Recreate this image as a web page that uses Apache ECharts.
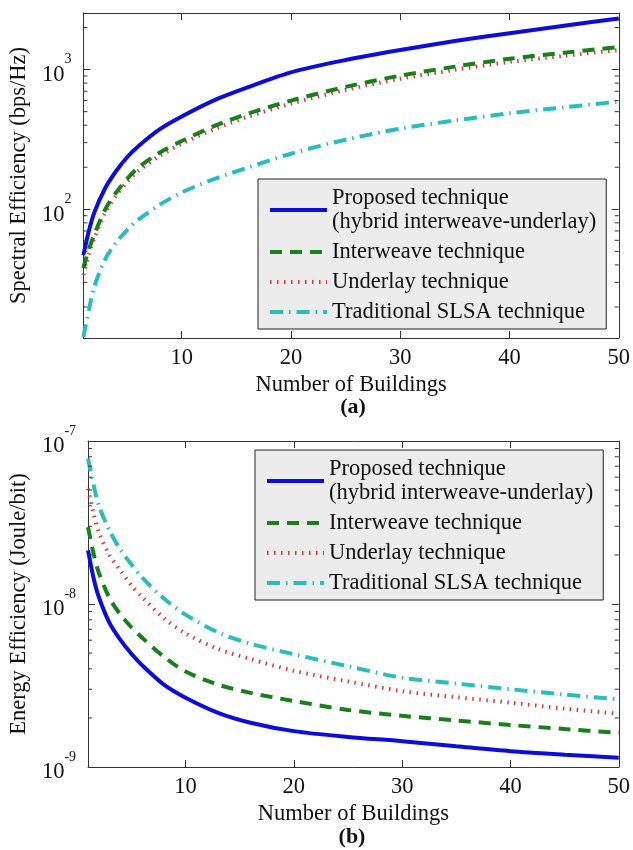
<!DOCTYPE html>
<html>
<head>
<meta charset="utf-8">
<script src="https://cdn.jsdelivr.net/npm/echarts@6/dist/echarts.min.js"></script>
<style>
html,body{margin:0;padding:0;background:#fff;}
#chart{width:633px;height:850px;}
</style>
</head>
<body>
<div id="chart"></div>
<script>
// ---- data ----
const buildings = [1, 1.5, 2, 3, 4, 5, 6, 8, 10, 13, 16, 20, 25, 30, 35, 40, 45, 50];

const seProposed   = [47, 70, 95, 142, 188, 236, 282, 375, 462, 605, 745, 955, 1170, 1380, 1600, 1820, 2060, 2320];
const seInterweave = [38, 52, 66, 100, 132, 165, 198, 255, 308, 395, 482, 600, 752, 905, 1050, 1195, 1320, 1450];
const seUnderlay   = [34, 48, 62, 95, 126, 157, 188, 242, 295, 375, 458, 570, 715, 860, 995, 1135, 1255, 1380];
const seSLSA       = [12.2, 19, 28, 44, 58, 71, 84, 108, 132, 165, 198, 250, 315, 378, 432, 487, 537, 590];

const eeProposed   = [2.13e-8, 1.45e-8, 1.1e-8, 7.6e-9, 6.0e-9, 4.95e-9, 4.2e-9, 3.2e-9, 2.66e-9, 2.15e-9, 1.87e-9, 1.66e-9, 1.53e-9, 1.44e-9, 1.34e-9, 1.25e-9, 1.19e-9, 1.14e-9];
const eeInterweave = [2.96e-8, 2.05e-8, 1.55e-8, 1.08e-8, 8.6e-9, 7.2e-9, 6.2e-9, 4.75e-9, 3.85e-9, 3.2e-9, 2.85e-9, 2.54e-9, 2.24e-9, 2.06e-9, 1.93e-9, 1.81e-9, 1.71e-9, 1.62e-9];
const eeUnderlay   = [5.1e-8, 3.6e-8, 2.75e-8, 1.98e-8, 1.6e-8, 1.3e-8, 1.1e-8, 8.2e-9, 6.6e-9, 5.3e-9, 4.6e-9, 3.89e-9, 3.35e-9, 2.92e-9, 2.68e-9, 2.48e-9, 2.28e-9, 2.12e-9];
const eeSLSA       = [7.8e-8, 5.4e-8, 4.0e-8, 2.8e-8, 2.15e-8, 1.75e-8, 1.45e-8, 1.08e-8, 8.6e-9, 6.7e-9, 5.7e-9, 4.92e-9, 4.15e-9, 3.53e-9, 3.25e-9, 3.0e-9, 2.78e-9, 2.6e-9];

const seriesNames = ['Proposed technique', 'Interweave technique', 'Underlay technique', 'Traditional SLSA technique'];
const proposedSecondLine = '(hybrid interweave-underlay)';

const xTickLabels = [10, 20, 30, 40, 50];
const seMinorTicks = [20, 30, 40, 50, 60, 70, 80, 90, 200, 300, 400, 500, 600, 700, 800, 900, 2000];
const eeMinorTicks = [2e-9, 3e-9, 4e-9, 5e-9, 6e-9, 7e-9, 8e-9, 9e-9, 2e-8, 3e-8, 4e-8, 5e-8, 6e-8, 7e-8, 8e-8, 9e-8];

const xMin = 1, xMax = 50;
const seMin = 12, seMax = 2540;
const eeMin = 1e-9, eeMax = 1e-7;

// ---- styles ----
const FONT = 'Liberation Serif';
const FS = 22.5;
const colors = ['#0d0dd9', '#1a7f1a', '#d23c3c', '#2cbcbc'];
const dashes = ['solid', [12, 8], [1.5, 5.5], [13, 6, 1.5, 6]];
const AX = '#333';

function pairs(ys) { return buildings.map((x, i) => [x, ys[i]]); }

function logLabel(v) {
  const l = Math.log10(v);
  const e = Math.round(l);
  if (Math.abs(l - e) > 1e-6) return '';
  return '{b|10}{s|' + e + '}';
}
const logRich = {
  b: { fontFamily: FONT, fontSize: FS, lineHeight: 34, verticalAlign: 'bottom', color: '#111' },
  s: { fontFamily: FONT, fontSize: 14, lineHeight: 14, verticalAlign: 'top', color: '#111' }
};

function xAxes(grid) {
  return [
    {
      type: 'value', gridIndex: grid, min: xMin, max: xMax, splitNumber: 5,
      name: 'Number of Buildings', nameLocation: 'middle', nameGap: 36,
      nameTextStyle: { fontFamily: FONT, fontSize: FS, color: '#111' },
      axisLine: { show: true, lineStyle: { color: AX } },
      axisTick: { show: true, inside: true, length: 7, lineStyle: { color: AX } },
      axisLabel: {
        fontFamily: FONT, fontSize: FS, color: '#111', margin: 9,
        formatter: v => (xTickLabels.indexOf(v) >= 0 ? String(v) : '')
      },
      splitLine: { show: false }
    },
    {
      type: 'value', gridIndex: grid, position: 'top', min: xMin, max: xMax, splitNumber: 5,
      axisLine: { show: true, lineStyle: { color: AX } },
      axisTick: { show: true, inside: true, length: 7, lineStyle: { color: AX } },
      axisLabel: { show: false },
      splitLine: { show: false }
    }
  ];
}

function yAxes(grid, min, max, name, gap) {
  return [
    {
      type: 'log', gridIndex: grid, min: min, max: max, logBase: 10,
      name: name, nameLocation: 'middle', nameGap: gap,
      nameTextStyle: { fontFamily: FONT, fontSize: FS, color: '#111' },
      axisLine: { show: true, lineStyle: { color: AX } },
      axisTick: { show: true, inside: true, length: 7, lineStyle: { color: AX } },
      axisLabel: { margin: 12, formatter: logLabel, rich: logRich, showMinLabel: true, showMaxLabel: true },
      splitLine: { show: false }
    },
    {
      type: 'log', gridIndex: grid, position: 'right', min: min, max: max, logBase: 10,
      axisLine: { show: true, lineStyle: { color: AX } },
      axisTick: { show: true, inside: true, length: 7, lineStyle: { color: AX } },
      axisLabel: { show: false },
      splitLine: { show: false }
    }
  ];
}

function lineSeries(ys, i, xi, yi) {
  return {
    type: 'line', name: seriesNames[i], xAxisIndex: xi, yAxisIndex: yi,
    data: pairs(ys), showSymbol: false, symbol: 'none', smooth: 0.3,
    z: i === 1 ? 4 : 3,
    lineStyle: { color: colors[i], width: 4, type: dashes[i] },
    itemStyle: { color: colors[i] },
    emphasis: { disabled: true }
  };
}

function minorTickSeries(values, xi, yi) {
  return {
    type: 'custom', xAxisIndex: xi, yAxisIndex: yi, silent: true, z: 5,
    data: values.map(v => [xMin, v]),
    renderItem: function (params, api) {
      const v = api.value(1);
      const l = api.coord([xMin, v]);
      const r = api.coord([xMax, v]);
      return {
        type: 'group',
        children: [
          { type: 'line', shape: { x1: l[0], y1: l[1], x2: l[0] + 4, y2: l[1] }, style: { stroke: AX, lineWidth: 1 } },
          { type: 'line', shape: { x1: r[0] - 4, y1: r[1], x2: r[0], y2: r[1] }, style: { stroke: AX, lineWidth: 1 } }
        ]
      };
    }
  };
}

function legend(left, top) {
  return {
    orient: 'vertical', left: left, top: top,
    data: seriesNames,
    itemWidth: 57, itemHeight: 14, itemGap: 6,
    padding: [7, 10, 5, 10],
    backgroundColor: '#ececec', borderColor: '#222', borderWidth: 1, borderRadius: 0,
    selectedMode: false,
    itemStyle: { opacity: 0, borderWidth: 0 },
    lineStyle: { width: 4 },
    textStyle: { fontFamily: FONT, fontSize: FS, lineHeight: 24, color: '#111' },
    formatter: name => (name === seriesNames[0] ? name + '\n' + proposedSecondLine : name)
  };
}

const chart = echarts.init(document.getElementById('chart'), null, { renderer: 'canvas' });
const xa = xAxes(0).concat(xAxes(1));
const ya = yAxes(0, seMin, seMax, 'Spectral Efficiency (bps/Hz)', 40)
  .concat(yAxes(1, eeMin, eeMax, 'Energy Efficiency (Joule/bit)', 47));

const seData = [seProposed, seInterweave, seUnderlay, seSLSA];
const eeData = [eeProposed, eeInterweave, eeUnderlay, eeSLSA];

const series = [];
seData.forEach((ys, i) => series.push(lineSeries(ys, i, 0, 0)));
eeData.forEach((ys, i) => series.push(lineSeries(ys, i, 2, 2)));
series.push(minorTickSeries(seMinorTicks, 0, 0));
series.push(minorTickSeries(eeMinorTicks, 2, 2));

chart.setOption({
  animation: false,
  backgroundColor: '#fff',
  grid: [
    { left: 82, top: 13, width: 538, height: 325, show: false },
    { left: 83, top: 441, width: 537, height: 326, show: false }
  ],
  xAxis: xa,
  yAxis: ya,
  legend: [legend(258, 179), legend(255, 450)],
  graphic: [
    { type: 'text', x: 353, y: 407, style: { text: '(a)', font: 'bold 22px "Liberation Serif"', fill: '#111', textAlign: 'center', textVerticalAlign: 'middle' } },
    { type: 'text', x: 352, y: 837, style: { text: '(b)', font: 'bold 22px "Liberation Serif"', fill: '#111', textAlign: 'center', textVerticalAlign: 'middle' } }
  ],
  series: series
});
</script>
</body>
</html>
